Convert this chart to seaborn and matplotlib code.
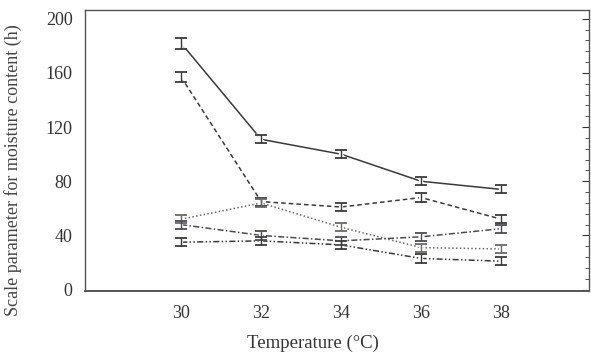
import matplotlib
matplotlib.use('Agg')
import matplotlib.pyplot as plt
from matplotlib.ticker import MultipleLocator
import numpy as np
import pandas as pd
import seaborn as sns

# Данные
temperature = [30, 32, 34, 36, 38]
series_a = [182, 111, 100, 80, 74]
series_b = [157, 65, 61, 68, 52]
series_c = [52, 64, 46, 31, 30]
series_d = [48, 40, 36, 39, 45]
series_e = [35, 36, 33, 23, 21]
err_a = [4, 3, 3, 3, 3]
err_b = [4, 3, 3, 3, 3]
err_c = [3, 3, 3, 3, 3]
err_d = [3, 3, 3, 3, 3]
err_e = [3, 3, 3, 3, 3]
names = ['A', 'B', 'C', 'D', 'E']

sns.set_style('white')
plt.rcParams['font.family'] = ['Liberation Serif', 'DejaVu Serif']

values = [series_a, series_b, series_c, series_d, series_e]
errors = [err_a, err_b, err_c, err_d, err_e]
df = pd.DataFrame({
    'temp': np.tile(temperature, len(names)),
    'value': np.concatenate(values),
    'series': np.repeat(names, len(temperature)),
})

dashes = {'A': '', 'B': (3, 2), 'C': (1, 1.5), 'D': (4, 1.5, 1, 1.5),
          'E': (4, 1.5, 1, 1.5, 1, 1.5)}
palette = {'A': '#3a3a3a', 'B': '#3a3a3a', 'C': '#6a6a6a',
           'D': '#4a4a5a', 'E': '#3a3a3a'}

fig = plt.figure(figsize=(5.91, 3.57), dpi=100)
ax = fig.add_axes([0.144, 0.185, 0.853, 0.787])

sns.lineplot(data=df, x='temp', y='value', hue='series', style='series',
             dashes=dashes, palette=palette, markers={n: 'x' for n in names},
             markersize=7, markeredgewidth=1.5, linewidth=1.1,
             legend=False, ax=ax)

for name, v, e in zip(names, values, errors):
    ax.errorbar(temperature, v, yerr=e, fmt='none', ecolor=palette[name],
                elinewidth=1.0, capsize=4.5, capthick=1.3)

ax.set_xlim(27.6, 40.2)
ax.set_ylim(-1, 206.5)
ax.set_xticks(temperature)
ax.set_yticks([0, 40, 80, 120, 160, 200])
ax.yaxis.set_minor_locator(MultipleLocator(8))
ax.tick_params(axis='y', which='both', direction='in', right=True,
               labelsize=13, colors='#333333', pad=9)
ax.tick_params(axis='y', which='major', length=5)
ax.tick_params(axis='y', which='minor', length=3)
ax.tick_params(axis='x', direction='in', length=0, labelsize=13,
               colors='#333333', pad=10)
for sp in ax.spines.values():
    sp.set_color('#555555')
    sp.set_linewidth(1.0)
ax.spines['bottom'].set_linewidth(1.4)

ax.set_xlabel('Temperature (°C)', fontsize=13.5, color='#333333')
ax.set_ylabel('Scale parameter for moisture content (h)', fontsize=13,
              color='#444444')
ax.xaxis.set_label_coords(0.452, -0.155)
ax.yaxis.set_label_coords(-0.125, 0.43)

fig.savefig('out.png', dpi=100)
